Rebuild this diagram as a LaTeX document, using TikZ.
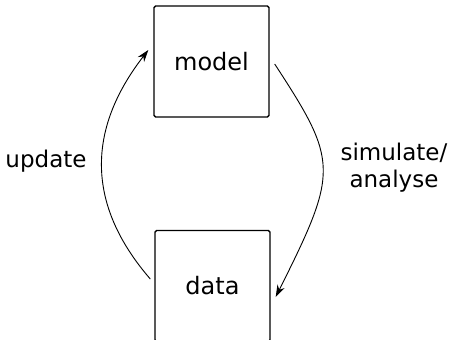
\documentclass[tikz,border=0pt]{standalone}
\usepackage{fontspec}
\setmainfont{DejaVu Sans}
\usetikzlibrary{arrows.meta,calc}

\begin{document}
\begin{tikzpicture}[x=0.5pt, y=-0.5pt,
    box/.style={draw, line width=0.7pt, rounded corners=0.8pt,
        minimum width=57.5pt, minimum height=55.5pt, inner sep=0pt,
        font=\fontsize{12}{14}\selectfont},
    flow/.style={line width=0.45pt, -{Stealth[length=6pt,width=4pt]}},
    lbl/.style={font=\fontsize{11.5}{13.5}\selectfont, align=center, inner sep=0pt}]

    \useasboundingbox (0,0) rectangle (451,339);

    % 箱 model, data
    \node[box] (model) at (211.5,61.5) {model};
    \node[box] (data) at (212.5,286) {data};

    % 矢印の端点
    \coordinate (dataL) at ($(data.west)+(-4,-7)$);
    \coordinate (modelL) at ($(model.west)+(-5,-11.5)$);
    \coordinate (modelR) at ($(model.east)+(5,2.5)$);
    \coordinate (dataR) at ($(data.east)+(5,11)$);

    % 曲線の矢印
    \draw[flow] (dataL) .. controls +(-64,-74) and +(-62,80) .. (modelL);
    \draw[flow] (modelR) .. controls +(64,98) and +(63,-126) .. (dataR);

    % ラベル
    \node[lbl, anchor=base] (upd) at (46,167) {update};
    \node[lbl] (sim) at (394,168) {simulate/\\analyse};

\end{tikzpicture}
\end{document}
